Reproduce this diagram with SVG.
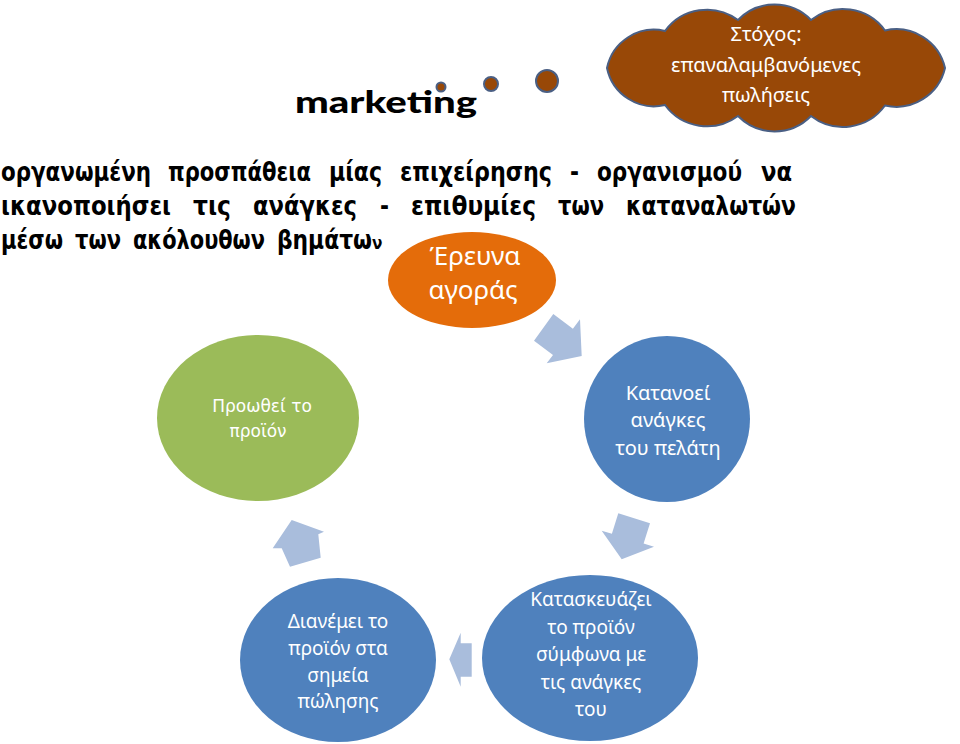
<svg xmlns="http://www.w3.org/2000/svg" width="960" height="744" viewBox="0 0 960 744">
<style>
.para{font-family:'Liberation Sans Narrow','DejaVu Sans Condensed','Liberation Sans',sans-serif;font-weight:bold;font-size:27px;fill:#000}
.nt{font-family:'Noto Sans','Open Sans','DejaVu Sans',sans-serif;fill:#fff;text-anchor:middle}
.gt{font-family:'DejaVu Sans','Noto Sans',sans-serif;fill:#fff;text-anchor:middle;font-size:17px}
.arrow{fill:#A9BDDC}
.brown{fill:#984807;stroke:#4A5F84;stroke-width:2}
</style>
<rect width="960" height="744" fill="#fff"/>

<g id="goal-cloud">
<circle class="brown" cx="441" cy="87" r="4.5" stroke-width="1.5"/>
<circle class="brown" cx="491" cy="84" r="7"/>
<circle class="brown" cx="547" cy="81" r="11"/>
<path class="brown" d="M945,68 A50,50 0 0 1 885,105.5 A52,52 0 0 1 811,116 A51,51 0 0 1 738,116 A52,52 0 0 1 665,105 A48,48 0 0 1 607,68 A48,48 0 0 1 665,31 A52,52 0 0 1 738,20 A51,51 0 0 1 811,20 A52,52 0 0 1 885,30.5 A50,50 0 0 1 945,68 Z"/>
<text class="nt" font-size="20" x="766" y="41">Στόχος:</text>
<text class="nt" font-size="20" x="766" y="72">επαναλαμβανόμενες</text>
<text class="nt" font-size="20" x="766" y="102">πωλήσεις</text>
</g>

<g id="title">
<text x="295" y="113" font-family="'Comic Sans MS','Lato','Liberation Sans',sans-serif" font-weight="900" font-size="30" textLength="182" lengthAdjust="spacingAndGlyphs">marketing</text>
</g>

<g id="definition" class="para">
<text y="181"><tspan x="1" textLength="150" lengthAdjust="spacingAndGlyphs">οργανωμένη</tspan><tspan x="168" textLength="143" lengthAdjust="spacingAndGlyphs">προσπάθεια</tspan><tspan x="329" textLength="53" lengthAdjust="spacingAndGlyphs">μίας</tspan><tspan x="400" textLength="152" lengthAdjust="spacingAndGlyphs">επιχείρησης</tspan><tspan x="570" textLength="9" lengthAdjust="spacingAndGlyphs">-</tspan><tspan x="597" textLength="145" lengthAdjust="spacingAndGlyphs">οργανισμού</tspan><tspan x="761" textLength="31" lengthAdjust="spacingAndGlyphs">να</tspan></text>
<text y="215"><tspan x="1" textLength="170" lengthAdjust="spacingAndGlyphs">ικανοποιήσει</tspan><tspan x="193" textLength="38" lengthAdjust="spacingAndGlyphs">τις</tspan><tspan x="253" textLength="104" lengthAdjust="spacingAndGlyphs">ανάγκες</tspan><tspan x="380" textLength="9" lengthAdjust="spacingAndGlyphs">-</tspan><tspan x="411" textLength="125" lengthAdjust="spacingAndGlyphs">επιθυμίες</tspan><tspan x="558" textLength="46" lengthAdjust="spacingAndGlyphs">των</tspan><tspan x="626" textLength="170" lengthAdjust="spacingAndGlyphs">καταναλωτών</tspan></text>
<text y="249"><tspan x="1" textLength="62" lengthAdjust="spacingAndGlyphs">μέσω</tspan><tspan x="75" textLength="46" lengthAdjust="spacingAndGlyphs">των</tspan><tspan x="133" textLength="132" lengthAdjust="spacingAndGlyphs">ακόλουθων</tspan><tspan x="277" textLength="95" lengthAdjust="spacingAndGlyphs">βημάτω</tspan><tspan font-size="17">ν</tspan></text>
</g>

<g id="connectors">
<polygon class="arrow" points="553.3,314 572.9,328.7 580,319.3 581.7,356 546.7,363.3 553,354.9 534,340.7"/>
<polygon class="arrow" points="618.3,513.3 650,523.3 643.6,543.5 654,546.7 621.7,559.3 601.7,530.7 611.9,533.8"/>
<polygon class="arrow" points="449.3,659.3 460.7,632.7 460.7,643.3 471.7,643.3 471.7,676.7 460.7,676.7 460.7,686.7"/>
<polygon class="arrow" points="291.7,520 324,531.7 318.3,534.3 320.7,557.7 290,566.7 281.7,548.3 272.7,548.3"/>
</g>

<g id="node-market-research">
<ellipse cx="472" cy="280" rx="84" ry="48" fill="#E46C0A"/>
<text class="nt" font-size="26" x="475" y="265">Έρευνα</text>
<text class="nt" font-size="26" x="473" y="299">αγοράς</text>
</g>

<g id="node-understand-needs">
<circle cx="667" cy="419" r="83" fill="#4F81BD"/>
<text class="nt" font-size="20" x="668" y="400">Κατανοεί</text>
<text class="nt" font-size="20" x="668" y="427">ανάγκες</text>
<text class="nt" font-size="20" x="668" y="455">του πελάτη</text>
</g>

<g id="node-manufacture">
<ellipse cx="590" cy="658" rx="108" ry="83" fill="#4F81BD"/>
<text class="nt" font-size="19" x="591" y="606">Κατασκευάζει</text>
<text class="nt" font-size="19" x="591" y="633.5">το προϊόν</text>
<text class="nt" font-size="19" x="591" y="661">σύμφωνα με</text>
<text class="nt" font-size="19" x="591" y="688.5">τις ανάγκες</text>
<text class="nt" font-size="19" x="591" y="716">του</text>
</g>

<g id="node-distribute">
<ellipse cx="338" cy="660" rx="98" ry="82" fill="#4F81BD"/>
<text class="nt" font-size="19" x="338" y="628">Διανέμει το</text>
<text class="nt" font-size="19" x="338" y="655">προϊόν στα</text>
<text class="nt" font-size="19" x="338" y="682">σημεία</text>
<text class="nt" font-size="19" x="338" y="708">πώλησης</text>
</g>

<g id="node-promote">
<ellipse cx="258" cy="418" rx="101" ry="83" fill="#9BBB59"/>
<text class="gt" x="262" y="412">Προωθεί το</text>
<text class="gt" x="258" y="437">προϊόν</text>
</g>
</svg>
